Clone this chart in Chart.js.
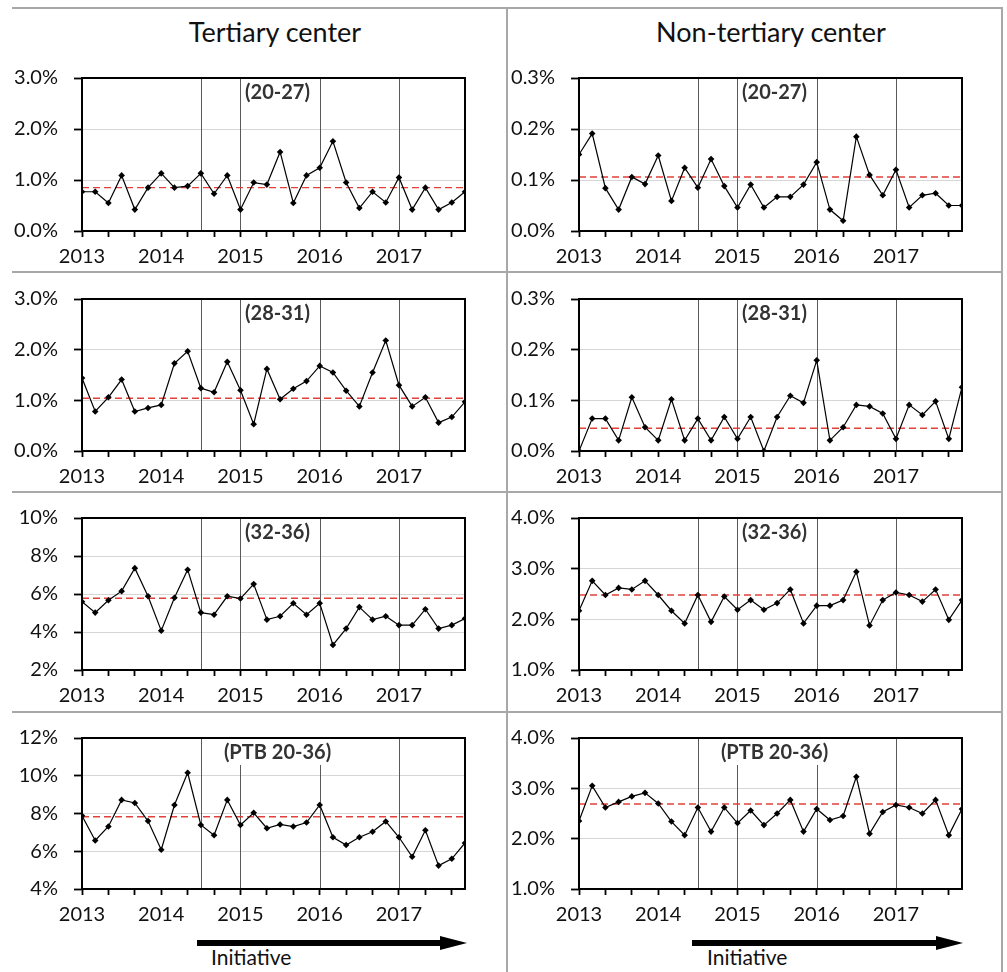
<!DOCTYPE html>
<html>
<head>
<meta charset="utf-8">
<script src="https://cdn.jsdelivr.net/npm/chart.js@4.4.0/dist/chart.umd.min.js"></script>
<style>
	body { margin: 0; width: 1007px; height: 972px; position: relative; overflow: hidden; background: #fff; font-family: Lato, sans-serif; }
	.hline { position: absolute; left: 12px; width: 991px; height: 2px; background: #a8a8a8; }
	.vline { position: absolute; top: 8px; width: 2px; height: 964px; background: #a8a8a8; }
	.title { position: absolute; top: 15px; width: 300px; text-align: center; font-size: 27px; line-height: 34px; color: #111; }
	.initiative { position: absolute; top: 943px; font-size: 21px; line-height: 27px; color: #111; }
	.shaft { position: absolute; height: 6px; background: #000; }
	.head { position: absolute; width: 0; height: 0; border-top: 7px solid transparent; border-bottom: 7px solid transparent; border-left: 27px solid #000; }
	canvas { position: absolute; }
</style>
</head>
<body>
<div class="hline" style="top:7px"></div>
<div class="hline" style="top:271px"></div>
<div class="hline" style="top:491px"></div>
<div class="hline" style="top:711px"></div>
<div class="vline" style="left:506px"></div>
<div class="vline" style="left:1001px"></div>

<div class="title" style="left:125px">Tertiary center</div>
<div class="title" style="left:621px">Non-tertiary center</div>

<div class="shaft" style="left:197px; top:940px; width:246px"></div>
<div class="head" style="left:440px; top:936px"></div>
<div class="initiative" style="left:211px">Initiative</div>
<div class="shaft" style="left:692px; top:940px; width:246px"></div>
<div class="head" style="left:936px; top:936px"></div>
<div class="initiative" style="left:707px">Initiative</div>

<canvas id="t1"></canvas><canvas id="n1"></canvas>
<canvas id="t2"></canvas><canvas id="n2"></canvas>
<canvas id="t3"></canvas><canvas id="n3"></canvas>
<canvas id="t4"></canvas><canvas id="n4"></canvas>

<script>
// months since Jan 2013, one point every two months
const months = [0, 2, 4, 6, 8, 10, 12, 14, 16, 18, 20, 22, 24, 26, 28, 30, 32, 34, 36, 38, 40, 42, 44, 46, 48, 50, 52, 54, 56, 58];
const yearLabels = ['2013', '2014', '2015', '2016', '2017'];
const initiativeLines = [18, 24, 36, 48];
const groupLabels = ['(20-27)', '(28-31)', '(32-36)', '(PTB 20-36)'];

// tertiary center, % of births
const tert20_27 = [0.77, 0.77, 0.55, 1.09, 0.42, 0.85, 1.13, 0.85, 0.88, 1.13, 0.73, 1.09, 0.42, 0.95, 0.91, 1.55, 0.55, 1.09, 1.24, 1.76, 0.95, 0.45, 0.77, 0.56, 1.05, 0.42, 0.85, 0.42, 0.56, 0.77];
const tert28_31 = [1.44, 0.78, 1.06, 1.41, 0.78, 0.85, 0.91, 1.73, 1.97, 1.24, 1.16, 1.76, 1.20, 0.53, 1.62, 1.02, 1.23, 1.38, 1.68, 1.55, 1.19, 0.88, 1.55, 2.18, 1.30, 0.88, 1.06, 0.56, 0.67, 0.97];
const tert32_36 = [5.59, 5.02, 5.67, 6.15, 7.36, 5.88, 4.07, 5.80, 7.28, 5.02, 4.91, 5.88, 5.76, 6.52, 4.65, 4.83, 5.51, 4.91, 5.51, 3.32, 4.18, 5.31, 4.65, 4.83, 4.36, 4.36, 5.20, 4.18, 4.36, 4.71];
const tertPTB = [7.88, 6.57, 7.31, 8.72, 8.56, 7.60, 6.08, 8.45, 10.16, 7.39, 6.85, 8.72, 7.39, 8.04, 7.22, 7.42, 7.31, 7.52, 8.45, 6.74, 6.33, 6.74, 7.03, 7.58, 6.74, 5.71, 7.11, 5.24, 5.60, 6.44];
const tertMeans = [0.85, 1.04, 5.78, 7.83];

// non-tertiary center
const non20_27 = [0.150, 0.191, 0.084, 0.042, 0.106, 0.092, 0.148, 0.059, 0.124, 0.085, 0.141, 0.088, 0.046, 0.091, 0.046, 0.067, 0.067, 0.091, 0.135, 0.042, 0.020, 0.185, 0.110, 0.070, 0.120, 0.046, 0.070, 0.074, 0.050, 0.050];
const non28_31 = [0.000, 0.064, 0.064, 0.021, 0.106, 0.047, 0.021, 0.102, 0.021, 0.064, 0.021, 0.067, 0.024, 0.067, 0.000, 0.067, 0.109, 0.095, 0.179, 0.021, 0.047, 0.091, 0.088, 0.074, 0.024, 0.091, 0.071, 0.098, 0.024, 0.126];
const non32_36 = [2.17, 2.76, 2.48, 2.62, 2.59, 2.76, 2.48, 2.17, 1.92, 2.48, 1.95, 2.45, 2.19, 2.38, 2.19, 2.32, 2.59, 1.92, 2.27, 2.27, 2.38, 2.94, 1.88, 2.38, 2.53, 2.48, 2.35, 2.59, 1.99, 2.38];
const nonPTB = [2.35, 3.05, 2.62, 2.73, 2.84, 2.91, 2.70, 2.34, 2.07, 2.62, 2.14, 2.62, 2.31, 2.56, 2.27, 2.50, 2.77, 2.14, 2.59, 2.37, 2.45, 3.23, 2.10, 2.53, 2.67, 2.62, 2.50, 2.77, 2.07, 2.59];
const nonMeans = [0.106, 0.045, 2.48, 2.69];

// plot box of every panel row / column, in page pixels
const rowTop = [66, 287, 506, 726];
const rowBottom = [231, 451, 670, 889];
const colLeft = [82, 579];
const colRight = [465, 962];
const axisW = 78, padTop = 16, padRight = 16, xAxisH = 42;

Chart.defaults.font.family = 'Lato';
Chart.defaults.font.size = 20;
Chart.defaults.color = '#111';

let decor = {
	id: 'decor',
	beforeDatasetsDraw(chart, args, opts) {
		let { ctx, chartArea, scales } = chart;
		ctx.save();
		ctx.strokeStyle = '#5a5a5a';
		ctx.lineWidth = 1;
		initiativeLines.forEach((m) => {
			let px = Math.round(scales.x.getPixelForValue(m)) + 0.5;
			ctx.beginPath();
			ctx.moveTo(px, chartArea.top);
			ctx.lineTo(px, chartArea.bottom);
			ctx.stroke();
		});
		ctx.font = 'bold 20px Lato';
		let w = ctx.measureText(opts.label).width;
		let cx = (chartArea.left + chartArea.right) / 2 + 4;
		ctx.fillStyle = '#fff';
		ctx.fillRect(cx - w / 2 - 3, chartArea.top, w + 6, 27);
		ctx.fillStyle = '#333';
		ctx.textAlign = 'center';
		ctx.textBaseline = 'middle';
		ctx.fillText(opts.label, cx, chartArea.top + 15);
		ctx.restore();
	},
	afterDatasetsDraw(chart) {
		let { ctx, chartArea } = chart;
		ctx.save();
		ctx.strokeStyle = '#000';
		ctx.lineWidth = 2;
		ctx.strokeRect(chartArea.left, chartArea.top, chartArea.right - chartArea.left, chartArea.bottom - chartArea.top);
		ctx.restore();
	}
};

function makePanel(id, row, col, values, mean, yMin, yMax, step, decimals) {
	let canvas = document.getElementById(id);
	let plotW = colRight[col] - colLeft[col];
	let plotH = rowBottom[row] - rowTop[row];
	canvas.width = axisW + plotW + padRight;
	canvas.height = padTop + plotH + xAxisH;
	canvas.style.left = (colLeft[col] - axisW) + 'px';
	canvas.style.top = (rowTop[row] - padTop) + 'px';

	return new Chart(canvas, {
		type: 'line',
		data: {
			datasets: [{
				data: months.map((m, i) => ({ x: m, y: values[i] })),
				borderColor: '#000',
				borderWidth: 1.2,
				pointStyle: 'rectRot',
				pointRadius: 3.3,
				pointBackgroundColor: '#000',
				pointBorderWidth: 0,
				tension: 0
			}, {
				data: [{ x: months[0], y: mean }, { x: months[months.length - 1], y: mean }],
				borderColor: '#e2403a',
				borderWidth: 1.4,
				borderDash: [7, 4],
				pointRadius: 0
			}]
		},
		options: {
			responsive: false,
			animation: false,
			events: [],
			layout: { padding: { top: padTop, right: padRight, left: 0, bottom: 0 } },
			plugins: {
				legend: { display: false },
				tooltip: { enabled: false },
				decor: { label: groupLabels[row] }
			},
			scales: {
				x: {
					type: 'linear',
					min: months[0],
					max: months[months.length - 1],
					afterFit: (s) => { s.height = xAxisH; },
					border: { display: false },
					grid: { drawOnChartArea: false, tickLength: 6, tickColor: '#000', tickWidth: 1.8 },
					ticks: {
						stepSize: 4,
						includeBounds: false,
						autoSkip: false,
						maxRotation: 0,
						padding: 8,
						callback: (v) => (v % 12 === 0 ? yearLabels[v / 12] : '')
					}
				},
				y: {
					min: yMin,
					max: yMax,
					afterFit: (s) => { s.width = axisW; },
					border: { display: false },
					grid: {
						color: (c) => (c.index === 0 || c.index === c.scale.ticks.length - 1) ? 'rgba(0,0,0,0)' : '#d6d6d6',
						lineWidth: 1,
						tickLength: 8,
						tickColor: '#000',
						tickWidth: 1.8
					},
					ticks: {
						stepSize: step,
						padding: 16,
						callback: (v) => v.toFixed(decimals) + '%'
					}
				}
			}
		},
		plugins: [decor]
	});
}

makePanel('t1', 0, 0, tert20_27, tertMeans[0], 0, 3, 1, 1);
makePanel('n1', 0, 1, non20_27, nonMeans[0], 0, 0.3, 0.1, 1);
makePanel('t2', 1, 0, tert28_31, tertMeans[1], 0, 3, 1, 1);
makePanel('n2', 1, 1, non28_31, nonMeans[1], 0, 0.3, 0.1, 1);
makePanel('t3', 2, 0, tert32_36, tertMeans[2], 2, 10, 2, 0);
makePanel('n3', 2, 1, non32_36, nonMeans[2], 1, 4, 1, 1);
makePanel('t4', 3, 0, tertPTB, tertMeans[3], 4, 12, 2, 0);
makePanel('n4', 3, 1, nonPTB, nonMeans[3], 1, 4, 1, 1);
</script>
</body>
</html>
